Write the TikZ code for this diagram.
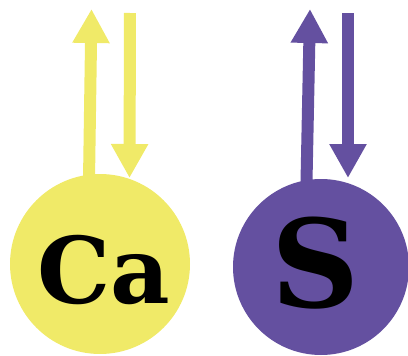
\documentclass[tikz,border=0pt]{standalone}
\usepackage{fontspec}
\setmainfont{DejaVu Serif}
\usetikzlibrary{arrows.meta}
\definecolor{cayellow}{HTML}{F0EA68}
\definecolor{spurple}{HTML}{6450A0}
\tikzset{
  atom/.style={circle, inner sep=0pt, minimum size=#1},
  spinarrow/.style={line width=12pt, -{Triangle[length=34pt,width=35pt]}},
  elem/.style={font=\bfseries\fontsize{#1}{#1}\selectfont, inner sep=0pt, text=black}
}
\begin{document}
\begin{tikzpicture}[x=1pt,y=-1pt]
\useasboundingbox (0,0) rectangle (408,356);
% Ca
\node[atom=180pt, fill=cayellow] (ca) at (100,264) {};
\coordinate (caupS) at (89,180);
\coordinate (caupE) at (91.5,9);
\coordinate (cadnS) at (130,13);
\coordinate (cadnE) at (129.5,178);
\draw[spinarrow, draw=cayellow, fill=cayellow] (caupS) -- (caupE);
\draw[spinarrow, draw=cayellow, fill=cayellow] (cadnS) -- (cadnE);
\node[elem=92pt, anchor=base] (catext) at (104,303) {Ca};
% S
\node[atom=176pt, fill=spurple] (s) at (321,267) {};
\coordinate (supS) at (306.5,182);
\coordinate (supE) at (310,9);
\coordinate (sdnS) at (348,13);
\coordinate (sdnE) at (348,178);
\draw[spinarrow, draw=spurple, fill=spurple] (supS) -- (supE);
\draw[spinarrow, draw=spurple, fill=spurple] (sdnS) -- (sdnE);
\node[elem=122pt, anchor=base] (stext) at (316,307) {S};
\end{tikzpicture}
\end{document}
